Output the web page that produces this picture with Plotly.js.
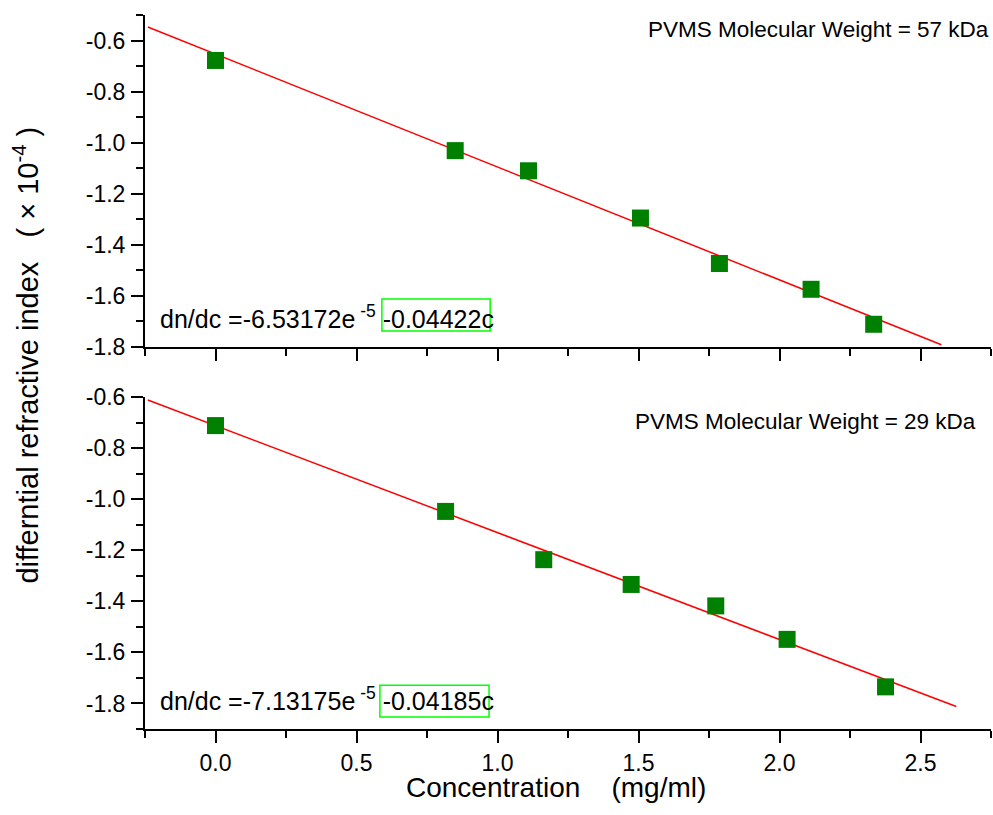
<!DOCTYPE html>
<html>
<head>
<meta charset="utf-8">
<script src="https://cdn.plot.ly/plotly-3.0.1.min.js"></script>
<style>html,body{margin:0;padding:0;background:#fff;}#chart{width:993px;height:815px;}</style>
</head>
<body>
<div id="chart"></div>
<script>
// ---- data ----
const concTop = [0, 0.850, 1.110, 1.507, 1.787, 2.112, 2.334];
const dnTop   = [-0.678, -1.031, -1.110, -1.295, -1.473, -1.574, -1.711];
const fitTopX = [-0.24, 2.574];
const fitTopY = [-0.547, -1.791];

const concBot = [0, 0.816, 1.164, 1.474, 1.774, 2.027, 2.376];
const dnBot   = [-0.712, -1.048, -1.237, -1.334, -1.418, -1.549, -1.735];
const fitBotX = [-0.24, 2.627];
const fitBotY = [-0.612, -1.812];

const xTickVals = [0, 0.5, 1.0, 1.5, 2.0, 2.5];
const xTickText = ["0.0", "0.5", "1.0", "1.5", "2.0", "2.5"];
const yTickVals = [-0.6, -0.8, -1.0, -1.2, -1.4, -1.6, -1.8];
const yTickText = ["-0.6", "-0.8", "-1.0", "-1.2", "-1.4", "-1.6", "-1.8"];

const labelTop = "PVMS Molecular Weight = 57 kDa";
const labelBot = "PVMS Molecular Weight = 29 kDa";
const eqTop = "dn/dc =-6.53172e<sup>\u00a0-5</sup>\u00a0-0.04422c";
const eqBot = "dn/dc =-7.13175e<sup>\u00a0-5</sup>\u00a0-0.04185c";
const xTitle = "Concentration\u00a0\u00a0\u00a0\u00a0(mg/ml)";
const yTitle = "differntial refractive index\u00a0\u00a0\u00a0(\u00a0×\u00a010<sup>-4</sup>\u00a0)";

const FONT = "Arial, 'Liberation Sans', sans-serif";

const markerStyle = {symbol: "square", size: 17, color: "#008000", line: {width: 0}};
const lineStyle = {color: "#ff0000", width: 1.5};

const traces = [
  {x: fitTopX, y: fitTopY, xaxis: "x", yaxis: "y", mode: "lines", line: lineStyle, showlegend: false, hoverinfo: "skip"},
  {x: concTop, y: dnTop, xaxis: "x", yaxis: "y", mode: "markers", marker: markerStyle, showlegend: false},
  {x: fitBotX, y: fitBotY, xaxis: "x2", yaxis: "y2", mode: "lines", line: lineStyle, showlegend: false, hoverinfo: "skip"},
  {x: concBot, y: dnBot, xaxis: "x2", yaxis: "y2", mode: "markers", marker: markerStyle, showlegend: false}
];

function xAxis(anchor, labels) {
  return {
    anchor: anchor, domain: [0, 1], range: [-0.25, 2.75],
    showline: true, linecolor: "#000", linewidth: 2, mirror: false,
    showgrid: false, zeroline: false,
    ticks: "outside", ticklen: 12, tickwidth: 2, tickcolor: "#000",
    tickmode: "array", tickvals: xTickVals, ticktext: xTickText,
    showticklabels: labels,
    tickfont: {family: FONT, size: 23, color: "#000"},
    minor: {tickmode: "linear", tick0: 0.25, dtick: 0.5, ticks: "outside", ticklen: 7, tickwidth: 2, tickcolor: "#000", showgrid: false}
  };
}
function yAxis(anchor, domain, range) {
  return {
    anchor: anchor, domain: domain, range: range,
    showline: true, linecolor: "#000", linewidth: 2, mirror: false,
    showgrid: false, zeroline: false,
    ticks: "outside", ticklen: 12, tickwidth: 2, tickcolor: "#000",
    tickmode: "array", tickvals: yTickVals, ticktext: yTickText,
    ticklabelstandoff: 1,
    tickfont: {family: FONT, size: 23, color: "#000"},
    minor: {tickmode: "linear", tick0: -0.5, dtick: 0.2, ticks: "outside", ticklen: 7, tickwidth: 2, tickcolor: "#000", showgrid: false}
  };
}

const layout = {
  width: 993, height: 815,
  margin: {l: 145, r: 2, t: 15, b: 86},
  paper_bgcolor: "#fff", plot_bgcolor: "#fff",
  font: {family: FONT, color: "#000"},
  xaxis: xAxis("y", false),
  yaxis: yAxis("x", [0.535, 1], [-1.8, -0.5]),
  xaxis2: xAxis("y2", true),
  yaxis2: yAxis("x2", [0, 0.465], [-1.9, -0.6]),
  shapes: [
    {type: "rect", xref: "x", yref: "y", x0: 0.590, x1: 0.974, y0: -1.612, y1: -1.737, line: {color: "#00ff00", width: 1.5}},
    {type: "rect", xref: "x2", yref: "y2", x0: 0.583, x1: 0.970, y0: -1.729, y1: -1.853, line: {color: "#00ff00", width: 1.5}}
  ],
  annotations: [
    {text: labelTop, xref: "paper", yref: "paper", x: 1, y: 0.979, xanchor: "right", yanchor: "middle", showarrow: false, font: {family: FONT, size: 22.5, color: "#000"}},
    {text: labelBot, xref: "paper", yref: "paper", x: 0.985, y: 0.430, xanchor: "right", yanchor: "middle", showarrow: false, font: {family: FONT, size: 22.5, color: "#000"}},
    {text: eqTop, xref: "x", yref: "y", x: -0.205, y: -1.682, xanchor: "left", yanchor: "middle", showarrow: false, font: {family: FONT, size: 25, color: "#000"}},
    {text: eqBot, xref: "x2", yref: "y2", x: -0.205, y: -1.784, xanchor: "left", yanchor: "middle", showarrow: false, font: {family: FONT, size: 25, color: "#000"}},
    {text: xTitle, xref: "paper", yref: "paper", x: 0.486, y: -0.082, xanchor: "center", yanchor: "middle", showarrow: false, font: {family: FONT, size: 28, color: "#000"}},
    {text: yTitle, xref: "paper", yref: "paper", x: -0.141, y: 0.524, xanchor: "center", yanchor: "middle", textangle: -90, showarrow: false, font: {family: FONT, size: 29, color: "#000"}}
  ]
};

Plotly.newPlot("chart", traces, layout, {displayModeBar: false, staticPlot: true});
</script>
</body>
</html>
